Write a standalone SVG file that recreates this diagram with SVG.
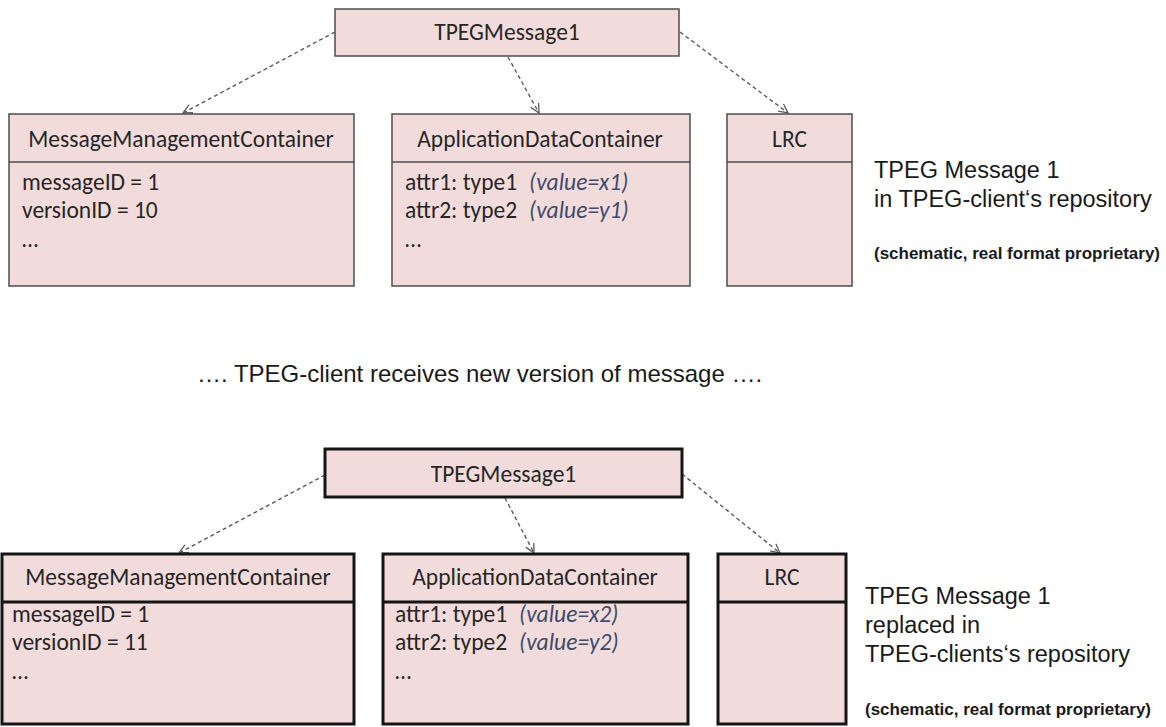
<svg xmlns="http://www.w3.org/2000/svg" width="1166" height="727" viewBox="0 0 1166 727">
<style>
.b1{fill:#f2dcdb;stroke:#4d4d4d;stroke-width:1.5}
.b2{fill:#f2dcdb;stroke:#151515;stroke-width:3}
.c{font-family:Carlito,Lato,"Open Sans",sans-serif;font-size:23.5px;fill:#262626}
.m{text-anchor:middle}
.i{font-style:italic;fill:#3d4b6c}
.a{font-family:"Liberation Sans",Arial,sans-serif;font-size:23.5px;fill:#1a1a1a}
.s{font-family:"Liberation Sans",Arial,sans-serif;font-size:16.5px;font-weight:bold;fill:#1a1a1a}
.conn{stroke:#5a5a5a;stroke-width:1.4;stroke-dasharray:4 3;fill:none;marker-end:url(#arr)}
</style>
<defs>
<marker id="arr" markerUnits="userSpaceOnUse" markerWidth="12" markerHeight="12" refX="10" refY="5" orient="auto" viewBox="0 0 12 10">
<path d="M1,0.5 L10,5 L1,9.5" fill="none" stroke="#5a5a5a" stroke-width="1.3"/>
</marker>
</defs>
<rect width="1166" height="727" fill="#fff"/>

<g id="connectors">
<line class="conn" x1="335" y1="32" x2="183" y2="113"/>
<line class="conn" x1="508" y1="57" x2="539" y2="113"/>
<line class="conn" x1="680" y1="32" x2="788" y2="113"/>
<line class="conn" x1="325" y1="475" x2="179" y2="553"/>
<line class="conn" x1="505" y1="498" x2="534" y2="553"/>
<line class="conn" x1="682" y1="474" x2="780" y2="553"/>
</g>

<g id="top-tpeg">
<rect class="b1" x="335" y="9" width="344" height="47"/>
<text class="c m" x="507" y="40">TPEGMessage1</text>
</g>
<g id="top-mmc">
<rect class="b1" x="9" y="114" width="345" height="172"/>
<line x1="9" y1="162" x2="354" y2="162" stroke="#4d4d4d" stroke-width="1.5"/>
<text class="c m" x="181" y="147">MessageManagementContainer</text>
<text class="c" x="22" y="190">messageID = 1</text>
<text class="c" x="22" y="218">versionID = 10</text>
<text class="c" x="22" y="247">…</text>
</g>
<g id="top-adc">
<rect class="b1" x="392" y="114" width="298" height="172"/>
<line x1="392" y1="162" x2="690" y2="162" stroke="#4d4d4d" stroke-width="1.5"/>
<text class="c m" x="540" y="147">ApplicationDataContainer</text>
<text class="c" x="405" y="190">attr1: type1</text>
<text class="c i" x="529" y="190">(value=x1)</text>
<text class="c" x="405" y="218">attr2: type2</text>
<text class="c i" x="529" y="218">(value=y1)</text>
<text class="c" x="405" y="247">…</text>
</g>
<g id="top-lrc">
<rect class="b1" x="727" y="114" width="125" height="172"/>
<line x1="727" y1="162" x2="852" y2="162" stroke="#4d4d4d" stroke-width="1.5"/>
<text class="c m" x="789.5" y="147">LRC</text>
</g>
<g id="top-label">
<text class="a" x="874" y="178">TPEG Message 1</text>
<text class="a" x="874" y="207">in TPEG-client‘s repository</text>
<text class="s" x="874" y="259" textLength="286" lengthAdjust="spacingAndGlyphs">(schematic, real format proprietary)</text>
</g>

<g id="middle-text">
<text class="a" x="197" y="382" style="font-size:24px">…. TPEG-client receives new version of message ….</text>
</g>

<g id="bottom-tpeg">
<rect class="b2" x="325" y="449" width="357" height="48"/>
<text class="c m" x="503.5" y="482">TPEGMessage1</text>
</g>
<g id="bottom-mmc">
<rect class="b2" x="2" y="554" width="352" height="170"/>
<line x1="2" y1="602" x2="354" y2="602" stroke="#151515" stroke-width="3"/>
<text class="c m" x="178" y="585">MessageManagementContainer</text>
<text class="c" x="12" y="622">messageID = 1</text>
<text class="c" x="12" y="650">versionID = 11</text>
<text class="c" x="12" y="679">…</text>
</g>
<g id="bottom-adc">
<rect class="b2" x="383" y="554" width="305" height="170"/>
<line x1="383" y1="602" x2="688" y2="602" stroke="#151515" stroke-width="3"/>
<text class="c m" x="535" y="585">ApplicationDataContainer</text>
<text class="c" x="395" y="622">attr1: type1</text>
<text class="c i" x="519" y="622">(value=x2)</text>
<text class="c" x="395" y="650">attr2: type2</text>
<text class="c i" x="519" y="650">(value=y2)</text>
<text class="c" x="395" y="679">…</text>
</g>
<g id="bottom-lrc">
<rect class="b2" x="718" y="554" width="128" height="170"/>
<line x1="718" y1="602" x2="846" y2="602" stroke="#151515" stroke-width="3"/>
<text class="c m" x="782" y="585">LRC</text>
</g>
<g id="bottom-label">
<text class="a" x="865" y="604">TPEG Message 1</text>
<text class="a" x="865" y="633">replaced in</text>
<text class="a" x="865" y="662">TPEG-clients‘s repository</text>
<text class="s" x="865" y="715" textLength="286" lengthAdjust="spacingAndGlyphs">(schematic, real format proprietary)</text>
</g>
</svg>
